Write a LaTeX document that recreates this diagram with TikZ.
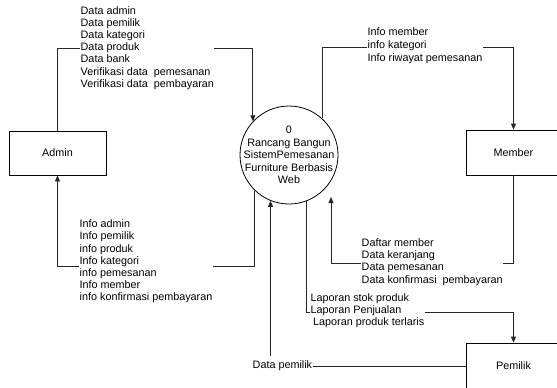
\documentclass[tikz,border=0pt]{standalone}
\usepackage{fontspec}
\setmainfont{Liberation Sans}
\usetikzlibrary{arrows.meta}
\begin{document}
\begin{tikzpicture}[x=1pt,y=-1pt,
  flow/.style={draw=black!85, line width=0.8pt},
  flowarrow/.style={flow, -{Triangle[length=6pt,width=5pt]}},
  entity/.style={draw, line width=0.8pt, rectangle, inner sep=0pt,
    font=\fontsize{10.8}{12.2}\selectfont},
  process/.style={draw, circle, line width=0.8pt, minimum size=98pt, inner sep=0pt},
  proctext/.style={align=center, inner sep=0pt, font=\fontsize{10.8}{12.5}\selectfont},
  lbl/.style={fill=white, inner xsep=0.5pt, inner ysep=1pt, align=left,
    anchor=west, font=\fontsize{10.8}{12.2}\selectfont},
]
\useasboundingbox (0,0) rectangle (557,388);
\clip (0,0) rectangle (557,388);
\fill[white] (0,0) rectangle (557,388);

% external entities and the process
\node[entity, minimum width=97pt, minimum height=44pt] (admin) at (57.5,153) {Admin};
\node[entity, minimum width=95pt, minimum height=45pt] (member) at (513.5,152.5) {Member};
\node[entity, minimum width=95pt, minimum height=46pt] (pemilik) at (513.5,366) {Pemilik};
\node[process] (proc) at (289,155) {};
\node[proctext] (proclabel) at (proc.center) {0\\Rancang Bangun\\SistemPemesanan\\Furniture Berbasis\\Web};

% rows used by the orthogonal flows
\coordinate (r48) at (0,48);
\coordinate (r47) at (0,47);
\coordinate (r266) at (0,266);
\coordinate (r263) at (0,263);
\coordinate (r312) at (0,312);
\coordinate (tipM) at (331,197);

% data flows
\draw[flowarrow] (admin.north) |- (proc.137 |- r48) -- (proc.137);
\draw[flowarrow] (proc.48) -- (proc.48 |- r47) -| (member.north);
\draw[flowarrow] (proc.226) -- (proc.226 |- r266) -| (admin.south);
\draw[flowarrow] (member.south) |- (tipM |- r263) -- (tipM);
\draw[flowarrow] (proc.291) -- (proc.291 |- r312) -| (pemilik.north);
\draw[flowarrow] (pemilik.west) -| (proc.248);

% flow labels
\node[lbl] (l1) at (80,47.9) {Data admin\\Data pemilik\\Data kategori\\Data produk\\Data bank\\Verifikasi data\ \ pemesanan\\Verifikasi data\ \ pembayaran};
\node[lbl, font=\fontsize{10.8}{13}\selectfont] (l2) at (367,46) {Info member\\info kategori\\Info riwayat pemesanan};
\node[lbl] (l3) at (79,261.5) {Info admin\\Info pemilik\\info produk\\Info kategori\\info pemesanan\\Info member\\info konfirmasi pembayaran};
\node[lbl] (l4) at (361,262) {Daftar member\\Data keranjang\\Data pemesanan\\Data konfirmasi\ \ pembayaran};
\node[lbl] (l5) at (310,311) {Laporan stok produk\\Laporan Penjualan\\\hspace{2.5pt}Laporan produk terlaris};
\node[lbl, inner ysep=5pt] (l6) at (252,366) {Data pemilik};
\end{tikzpicture}
\end{document}
